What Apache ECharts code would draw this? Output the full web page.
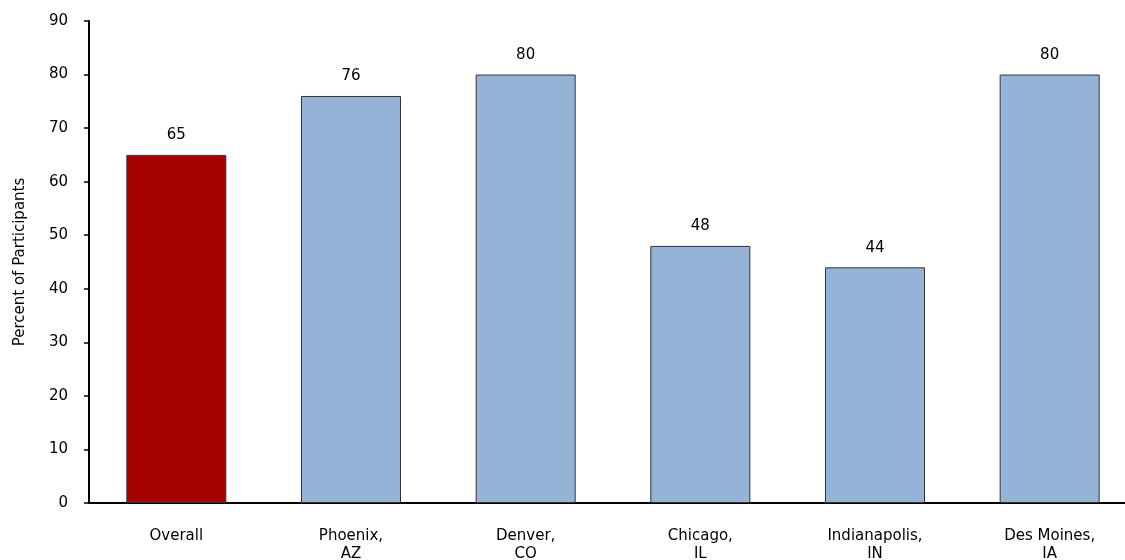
<!DOCTYPE html>
<html>
<head>
<meta charset="utf-8">
<script src="https://cdn.jsdelivr.net/npm/echarts@6/dist/echarts.min.js"></script>
<style>
  html, body { margin: 0; padding: 0; background: #fff; overflow: hidden; }
  #chart { width: 1125px; height: 560px; }
</style>
</head>
<body>
<div id="chart"></div>
<script>
// Share of participants by site
const categories = ['Overall', 'Phoenix,\nAZ', 'Denver,\nCO', 'Chicago,\nIL', 'Indianapolis,\nIN', 'Des Moines,\nIA'];
const values = [65, 76, 80, 48, 44, 80];
const barColors = ['#A50000', '#95B3D7', '#95B3D7', '#95B3D7', '#95B3D7', '#95B3D7'];
const yTicks = [0, 10, 20, 30, 40, 50, 60, 70, 80, 90];

const font = "'DejaVu Sans', sans-serif";
const chart = echarts.init(document.getElementById('chart'));
chart.setOption({
  animation: false,
  backgroundColor: '#ffffff',
  // plot area runs past the right edge of the canvas
  grid: { left: 89, top: 21, width: 1048, height: 482, outerBoundsMode: 'none', containLabel: false },
  xAxis: {
    type: 'category',
    data: categories,
    axisLine: { lineStyle: { color: '#000', width: 2 } },
    axisTick: { show: false },
    axisLabel: { color: '#000', fontFamily: font, fontSize: 15, margin: 24, lineHeight: 18 }
  },
  yAxis: {
    type: 'value',
    min: yTicks[0],
    max: yTicks[yTicks.length - 1],
    interval: 10,
    name: 'Percent of Participants',
    nameLocation: 'middle',
    nameGap: 61,
    nameTextStyle: { color: '#000', fontFamily: font, fontSize: 15 },
    axisLine: { show: true, lineStyle: { color: '#000', width: 2 } },
    axisTick: { show: true, length: 5, lineStyle: { color: '#000', width: 1.5 } },
    axisLabel: { color: '#000', fontFamily: font, fontSize: 15, margin: 21 },
    splitLine: { show: false }
  },
  series: [{
    type: 'bar',
    data: values.map((v, i) => ({ value: v, itemStyle: { color: barColors[i] } })),
    barWidth: 100,
    itemStyle: { borderColor: '#333', borderWidth: 1 },
    label: { show: true, position: 'top', distance: 12, color: '#000', fontFamily: font, fontSize: 15 }
  }]
});
</script>
</body>
</html>
